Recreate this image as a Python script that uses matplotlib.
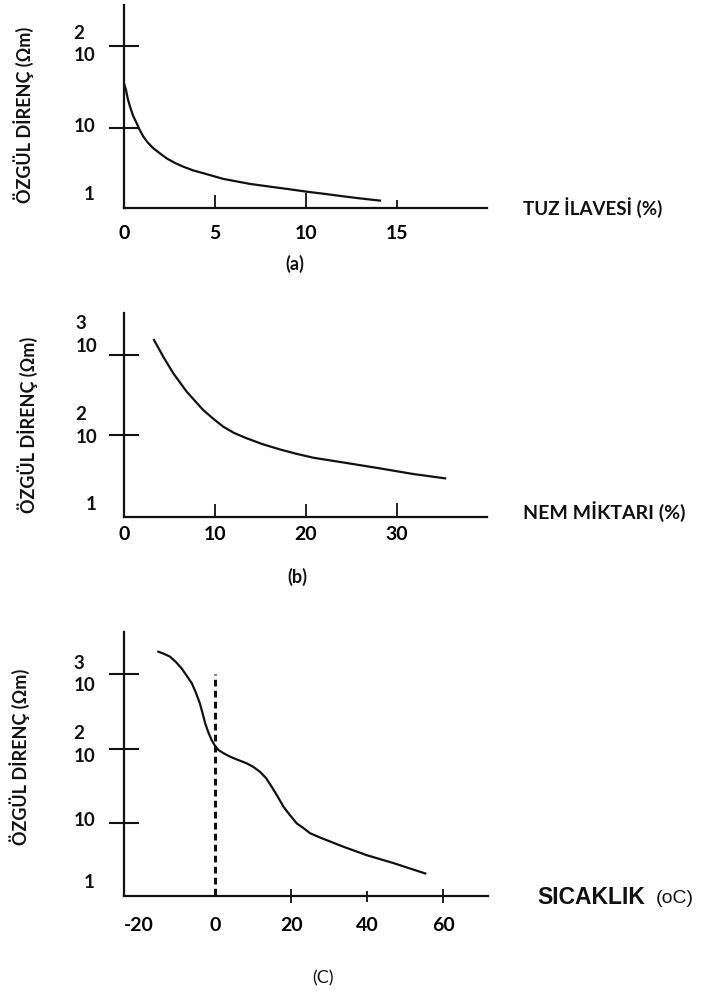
import matplotlib
matplotlib.use("Agg")
import matplotlib.pyplot as plt
from matplotlib.ticker import NullLocator

plt.rcParams["font.family"] = ["Lato", "DejaVu Sans"]
plt.rcParams["font.weight"] = "bold"

INK = "#111111"
PT = 0.72  # 1 px in points at dpi=100

# (a) tuz ilavesi (%) vs özgül direnç
tuz_pct = [0.0, 0.05, 0.11, 0.2, 0.33, 0.5, 0.7, 0.85, 1.06, 1.3, 1.61, 2.0, 2.35, 2.8,
           3.26, 3.8, 4.36, 5.46, 6.92, 8.0, 9.12, 10.0, 11.0, 12.2, 13.0, 14.07]
tuz_rho = [35, 32, 29, 23, 18.1, 14, 11.3, 9.5, 7.8, 6.6, 5.6, 4.8, 4.2, 3.7,
           3.33, 3.0, 2.77, 2.36, 2.05, 1.9, 1.76, 1.65, 1.55, 1.43, 1.36, 1.28]
tuz_ticks = [0, 5, 10, 15]

# (b) nem miktarı (%) vs özgül direnç
nem_pct = [3.3, 4.32, 5.42, 6.89, 8.71, 9.8, 10.91, 12.1, 13.48, 15.2, 17.14, 19.0,
           20.8, 24.5, 28.1, 31.8, 35.3]
nem_rho = [1540, 950, 590, 348, 205, 160, 127, 106, 91, 77, 66, 58,
           52, 44.6, 38.3, 32.5, 28.7]
nem_ticks = [0, 10, 20, 30]

# (c) sıcaklık (oC) vs özgül direnç
sic_c = [-14.9, -13.4, -11.8, -10.3, -8.8, -7.5, -6.1, -5.0, -4.0, -3.3, -2.6, -1.8,
         -0.9, 0.0, 0.9, 2.4, 4.0, 6.1, 8.3, 10.1, 11.8, 13.4, 14.9, 16.4, 18.0,
         19.7, 21.5, 23.2, 25.0, 27.6, 33.8, 39.9, 46.9, 55.3]
sic_rho = [2018, 1888, 1726, 1466, 1205, 966, 758, 561, 408, 302, 220, 168,
           131, 109, 96, 86, 78, 70.5, 63.7, 56.8, 49.1, 40.4, 30.8, 23.1, 16.6,
           12.8, 9.9, 8.6, 7.3, 6.4, 4.8, 3.7, 2.9, 2.1]
sic_ticks = [-20, 0, 20, 40, 60]
donma_c = 0
donma_ust = 1000


def px_axes(fig, left, top, right, bottom):
    W, H = 704, 996
    return fig.add_axes([left / W, 1 - bottom / H, (right - left) / W, (bottom - top) / H])


def setup(ax, xlim, ylim, yticks, xticks, xdir, xlens, xpad):
    ax.set_xlim(*xlim)
    ax.set_yscale("log")
    ax.set_ylim(*ylim)
    ax.patch.set_alpha(0)
    for s in ("top", "right"):
        ax.spines[s].set_visible(False)
    for s in ("left", "bottom"):
        ax.spines[s].set_linewidth(1.6)
        ax.spines[s].set_color(INK)
    ax.set_yticks(yticks)
    ax.yaxis.set_minor_locator(NullLocator())
    ax.tick_params(axis="y", direction="inout", length=30 * PT, width=1.5,
                   color=INK, labelleft=False)
    ax.set_xticks(xticks)
    ax.set_xticklabels([str(t) for t in xticks])
    ax.tick_params(axis="x", direction=xdir, length=12 * PT, width=1.3, color=INK,
                   pad=xpad, labelsize=14)
    for t, L in zip(ax.xaxis.get_major_ticks(), xlens):
        t.tick1line.set_markersize(L * PT)


def ylabels(ax, items, right_px):
    # items: (y value or None for axis bottom, text, dy in px)
    for val, txt, dy in items:
        if val is None:
            xy, coords = (0, 0), "axes fraction"
        else:
            xy, coords = (0, val), ("axes fraction", "data")
        ax.annotate(txt, xy=xy, xycoords=coords,
                    xytext=(-right_px * PT, dy * PT), textcoords="offset points",
                    ha="right", va="center", multialignment="left",
                    fontsize=13.5, linespacing=1.4, color=INK)


fig = plt.figure(figsize=(7.04, 9.96), dpi=100)
fig.patch.set_facecolor("white")

# ---- (a)
ax1 = px_axes(fig, 124, 5, 487, 208.3)
setup(ax1, (0, 19.95), (10 ** 0.013, 10 ** 2.502), [100, 10], tuz_ticks,
      "in", [0, 13, 15, 8], 12)
ax1.plot(tuz_pct, tuz_rho, color=INK, lw=1.6, solid_joinstyle="round")
ylabels(ax1, [(100, "2\n10", 1.5), (10, "10", 1.5), (None, "1", 14)], 29)

# ---- (b)
ax2 = px_axes(fig, 124, 313, 487, 517.3)
setup(ax2, (0, 39.9), (10 ** 0.971, 10 ** 3.525), [1000, 100], nem_ticks,
      "in", [0, 13, 13, 14], 6)
ax2.plot(nem_pct, nem_rho, color=INK, lw=1.6, solid_joinstyle="round")
ylabels(ax2, [(1000, "3\n10", 20), (100, "2\n10", 9), (None, "1", 13)], 27)

# ---- (c)
ax3 = px_axes(fig, 124, 632, 488, 895.5)
setup(ax3, (-23.95, 71.8), (10 ** 0.026, 10 ** 3.57), [1000, 100, 10], sic_ticks,
      "inout", [0, 0, 14, 11, 14], 11)
ax3.vlines(donma_c, ax3.get_ylim()[0], donma_ust, color=INK, lw=2.2,
           linestyles=(0, (2.2, 1.4)))
ax3.plot(sic_c, sic_rho, color=INK, lw=1.6, solid_joinstyle="round")
ylabels(ax3, [(1000, "3\n10", 0), (100, "2\n10", 4), (10, "10", 3), (None, "1", 13)], 29)


def ftext(x, y, s, **kw):
    fig.text(x / 704, 1 - y / 996, s, color=INK, **kw)


# axis titles
ftext(523, 208, "TUZ İLAVESİ (%)", fontsize=13.5, va="center", ha="left")
ftext(523, 512, "NEM MİKTARI (%)", fontsize=14, va="center", ha="left")
ftext(537, 897, "SICAKLIK", fontsize=16.5, va="center", ha="left",
      family=["Liberation Sans", "DejaVu Sans"])
ftext(656, 898, "(oC)", fontsize=14, va="center", ha="left", fontweight="normal",
      family=["Liberation Sans", "DejaVu Sans"])

for x, y in [(24, 115), (28, 425), (20, 757)]:
    ftext(x, y, "ÖZGÜL DİRENÇ (Ωm)", fontsize=13, rotation=90, va="center", ha="center")

# panel letters
ftext(295, 264, "(a)", fontsize=13, va="center", ha="center")
ftext(297, 577, "(b)", fontsize=13, va="center", ha="center")
ftext(323, 978, "(C)", fontsize=13, va="center", ha="center", fontweight="normal")

fig.savefig("out.png", dpi=100, facecolor="white")
